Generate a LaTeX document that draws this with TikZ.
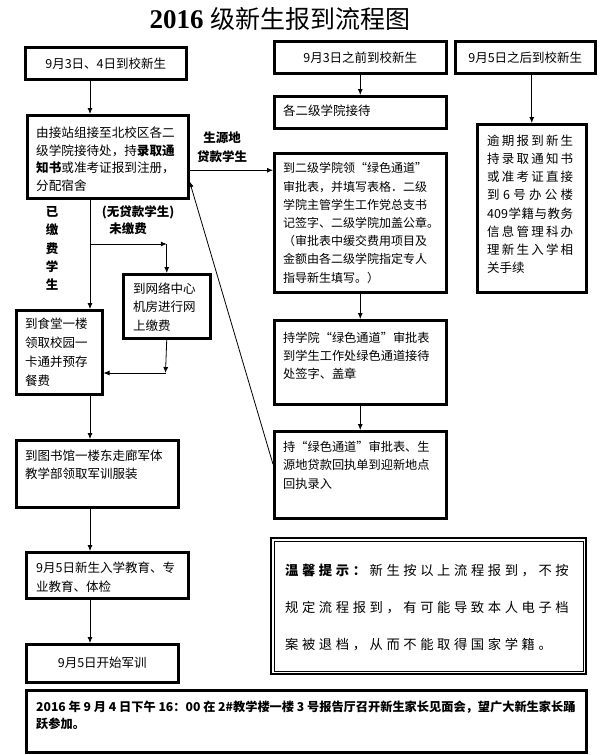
\documentclass[tikz,border=0pt]{standalone}
\usepackage{fontspec}
\setmainfont{Noto Sans CJK SC}
\newfontfamily\tnr{Liberation Serif}
\newfontfamily\widecjk{Noto Sans CJK SC}[LetterSpace=27]
\usetikzlibrary{arrows.meta}
\begin{document}
\begin{tikzpicture}[x=1pt,y=-1pt,
  box/.style={draw, line width=2.5pt, anchor=north west, inner sep=0pt},
  arr/.style={line width=0.8pt, -{Latex[length=6pt,width=5pt]}},
  txt/.style={inner sep=0pt, anchor=north west, align=left, font=\fontsize{12.5}{18}\selectfont},
  ctxt/.style={inner sep=0pt, font=\fontsize{12.5}{18}\selectfont},
  lbl/.style={inner sep=0pt, align=center, font=\bfseries\fontsize{12.5}{18}\selectfont}]
\fill[white] (0,0) rectangle (600,755);
\useasboundingbox (0,0) rectangle (600,755);

% title
\node[inner sep=0pt] (T) at (280,19) {{\tnr\bfseries\fontsize{27}{30}\selectfont 2016}\hspace{7pt}{\fontsize{25}{30}\selectfont 级新生报到流程图}};

% boxes
\node[box, minimum width=161pt, minimum height=32pt] (A) at (24,46) {};
\node[box, minimum width=172pt, minimum height=32pt] (B) at (273,40) {};
\node[box, minimum width=140pt, minimum height=32pt] (C) at (454,40) {};
\node[box, minimum width=172pt, minimum height=32pt] (D) at (273,95) {};
\node[box, minimum width=161pt, minimum height=83pt] (E) at (26,114) {};
\node[box, minimum width=172pt, minimum height=139pt] (F) at (273,152) {};
\node[box, minimum width=109pt, minimum height=168pt] (G) at (476,123) {};
\node[box, minimum width=87pt, minimum height=64pt] (H) at (122,273) {};
\node[box, minimum width=86pt, minimum height=84pt] (I) at (15,309) {};
\node[box, minimum width=172pt, minimum height=84pt] (J) at (273,319) {};
\node[box, minimum width=172pt, minimum height=87pt] (K) at (273,430) {};
\node[box, minimum width=162pt, minimum height=67pt] (L) at (15,439) {};
\node[box, minimum width=162pt, minimum height=46pt] (M) at (25,551) {};
\node[box, minimum width=152pt, minimum height=38pt] (N) at (25,643) {};
\node[box, line width=2pt, minimum width=315pt, minimum height=136pt] (O) at (270,537) {};
\draw[line width=0.7pt] ([shift={(4pt,-4pt)}]O.north west) rectangle ([shift={(-4pt,4pt)}]O.south east);
\node[box, minimum width=560pt, minimum height=62pt] (P) at (25,689) {};

% texts
\node[ctxt] (At) at (A.center) {9月3日、4日到校新生};
\node[ctxt] (Bt) at (B.center) {9月3日之前到校新生};
\node[ctxt] (Ct) at (C.center) {9月5日之后到校新生};
\node[ctxt] (Nt) at (N.center) {9月5日开始军训};
\node[txt] (Dt) at (283,104.5) {各二级学院接待};
\node[txt, font=\fontsize{12.6}{17.7}\selectfont] (Et) at (36,126.5) {由接站组接至北校区各二\\级学院接待处，持\textbf{录取通}\\\textbf{知书}或准考证报到注册，\\分配宿舍};
\node[txt, font=\fontsize{12}{18.2}\selectfont] (Ft) at (283,162.5) {到二级学院领“绿色通道”\\审批表，并填写表格．二级\\学院主管学生工作党总支书\\记签字、二级学院加盖公章。\\（审批表中缓交费用项目及\\金额由各二级学院指定专人\\指导新生填写。）};
\node[txt, font=\fontsize{12.5}{18.2}\selectfont] (Gt) at (487,134.5) {\hbox to 86pt{逾\hfil 期\hfil 报\hfil 到\hfil 新\hfil 生}\\\hbox to 86pt{持\hfil 录\hfil 取\hfil 通\hfil 知\hfil 书}\\\hbox to 86pt{或\hfil 准\hfil 考\hfil 证\hfil 直\hfil 接}\\\hbox to 86pt{到\hfil 6\hfil 号\hfil 办\hfil 公\hfil 楼}\\\hbox to 86pt{409\hfil 学\hfil 籍\hfil 与\hfil 教\hfil 务}\\\hbox to 86pt{信\hfil 息\hfil 管\hfil 理\hfil 科\hfil 办}\\\hbox to 86pt{理\hfil 新\hfil 生\hfil 入\hfil 学\hfil 相}\\关手续};
\node[txt, font=\fontsize{12.5}{18.5}\selectfont] (Ht) at (133,282.5) {到网络中心\\机房进行网\\上缴费};
\node[txt, font=\fontsize{12.5}{19}\selectfont] (It) at (25,317.5) {到食堂一楼\\领取校园一\\卡通并预存\\餐费};
\node[txt, font=\fontsize{12.2}{18}\selectfont] (Jt) at (283,331.5) {持学院“绿色通道”审批表\\到学生工作处绿色通道接待\\处签字、盖章};
\node[txt, font=\fontsize{12.2}{18.5}\selectfont] (Kt) at (283,440.5) {持“绿色通道”审批表、生\\源地贷款回执单到迎新地点\\回执录入};
\node[txt] (Lt) at (25,449.5) {到图书馆一楼东走廊军体\\教学部领取军训服装};
\node[txt, font=\fontsize{12.5}{19}\selectfont] (Mt) at (36,561.5) {9月5日新生入学教育、专\\业教育、体检};
\node[txt, font=\widecjk\fontsize{13.3}{37}\selectfont] (Ot) at (285,564) {\textbf{温馨提示：}新生按以上流程报到，不按\\规定流程报到，有可能导致本人电子档\\案被退档，从而不能取得国家学籍。};
\node[txt, font=\bfseries\fontsize{12.2}{17}\selectfont] (Pt) at (36,700.5) {2016 年 9 月 4 日下午 16：00 在 2\#教学楼一楼 3 号报告厅召开新生家长见面会，望广大新生家长踊\\跃参加。};

% labels
\node[lbl] (L1) at (222,138) {生源地};
\node[lbl] (L2) at (222,157) {贷款学生};
\node[lbl, font=\bfseries\fontsize{12.5}{18.3}\selectfont] (L3) at (52,248.5) {已\\缴\\费\\学\\生};
\node[lbl] (L4) at (138,212) {(无贷款学生)};
\node[lbl] (L5) at (128,229) {未缴费};

% connectors
\coordinate (sp) at (90,0);
\draw[arr] (A.south -| sp) -- (E.north -| sp);
\draw[arr] (B.south) -- (D.north);
\draw[arr] (C.south -| G.north) -- (G.north);
\draw[arr] ([yshift=-13.5pt]E.east) coordinate (ef) -- (ef -| F.west);
\draw[arr] (F.south) -- (J.north);
\draw[arr] (J.south) -- (K.north);
\draw[arr] ([yshift=10.5pt]K.west) -- ([yshift=-24.5pt]E.east);
\draw[arr] (E.south -| sp) -- (I.north -| sp);
\coordinate (br) at (90,244);
\draw[arr] (br) -- (br -| H.north);
\draw[arr] (br -| H.north) -- (H.north);
\coordinate (hi) at (165.5,373);
\draw[arr] (H.south) -- (hi);
\draw[arr] (hi) -- (hi -| I.east);
\draw[arr] (I.south -| sp) -- (L.north -| sp);
\draw[arr] (L.south -| sp) -- (M.north -| sp);
\draw[arr] (M.south -| sp) -- (N.north -| sp);
\end{tikzpicture}
\end{document}
